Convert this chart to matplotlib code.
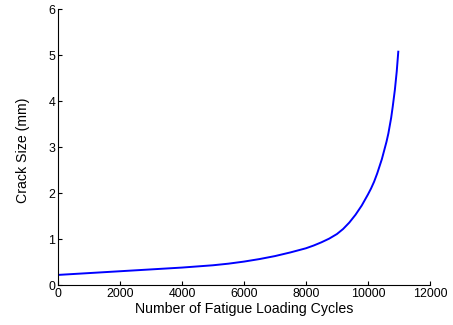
import numpy as np
import matplotlib
matplotlib.use("Agg")
import matplotlib.pyplot as plt

plt.rcParams['font.family'] = ['Liberation Sans', 'DejaVu Sans']

# Crack growth curve
cycles = [0, 1000, 2000, 3000, 4000, 5000, 5500, 6000, 6500, 7000, 7500,
          8000, 8250, 8500, 8750, 9000, 9200, 9400, 9600, 9800, 10000,
          10100, 10200, 10300, 10450, 10525, 10600, 10660, 10750, 10800,
          10870, 10930, 10980]
crack = [0.22, 0.26, 0.30, 0.34, 0.38, 0.43, 0.465, 0.51, 0.565, 0.63, 0.71,
         0.80, 0.86, 0.93, 1.01, 1.11, 1.22, 1.36, 1.53, 1.73, 1.97,
         2.10, 2.25, 2.43, 2.74, 2.93, 3.12, 3.30, 3.64, 3.88,
         4.25, 4.65, 5.08]

x_ticks = [0, 2000, 4000, 6000, 8000, 10000, 12000]
y_ticks = [0, 1, 2, 3, 4, 5, 6]

fig = plt.figure(figsize=(4.53, 3.25), dpi=100)
ax = fig.add_axes([0.128, 0.123, 0.821, 0.848])

ax.plot(cycles, crack, color='#0000ff', lw=1.4)

ax.set_xlim(0, 12000)
ax.set_ylim(0, 6)
ax.set_xticks(x_ticks)
ax.set_yticks(y_ticks)
ax.spines['top'].set_visible(False)
ax.spines['right'].set_visible(False)
ax.tick_params(direction='in', length=3, labelsize=8.9, pad=2)
ax.set_xlabel("Number of Fatigue Loading Cycles", fontsize=10.2, labelpad=1.5)
ax.set_ylabel("Crack Size (mm)", fontsize=10.2)
ax.yaxis.set_label_coords(-0.076, 0.49)

fig.savefig("out.png", dpi=100)
